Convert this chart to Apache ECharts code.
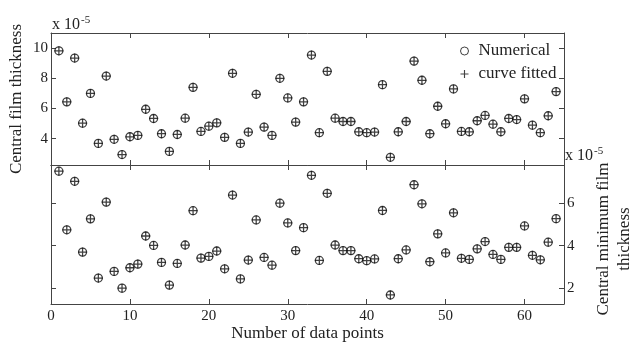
<!DOCTYPE html>
<html>
<head>
<meta charset="utf-8">
<script src="https://cdn.jsdelivr.net/npm/echarts@6/dist/echarts.min.js"></script>
<style>
html,body{margin:0;padding:0;background:#fff;}
#chart{width:644px;height:343px;}
</style>
</head>
<body>
<div id="chart"></div>
<script>
// data point index 1..64
var pointIdx = [];
for (var i = 1; i <= 64; i++) pointIdx.push(i);

// central film thickness (x 1e-5)
var filmNum = [9.82,6.44,9.34,5.03,7.00,3.69,8.15,3.96,2.95,4.13,4.22,5.95,5.34,4.33,3.16,4.28,
	5.36,7.40,4.48,4.83,5.05,4.09,8.33,3.69,4.44,6.94,4.77,4.22,8.00,6.70,5.10,6.44,
	9.54,4.40,8.46,5.36,5.14,5.14,4.46,4.40,4.44,7.58,2.77,4.46,5.14,9.14,7.87,4.33,
	6.15,4.99,7.30,4.48,4.46,5.19,5.54,4.96,4.46,5.34,5.27,6.64,4.90,4.40,5.52,7.12];
var filmFit = [9.82,6.44,9.34,5.03,7.00,3.69,8.15,3.96,2.95,4.13,4.22,5.95,5.34,4.33,3.16,4.28,
	5.36,7.40,4.48,4.83,5.05,4.09,8.33,3.69,4.44,6.94,4.77,4.22,8.00,6.70,5.10,6.44,
	9.54,4.40,8.46,5.36,5.14,5.14,4.46,4.40,4.44,7.58,2.77,4.46,5.14,9.14,7.87,4.33,
	6.15,4.99,7.30,4.48,4.46,5.19,5.54,4.96,4.46,5.34,5.27,6.64,4.90,4.40,5.52,7.12];

// central minimum film thickness (x 1e-5)
var minNum = [7.47,4.74,7.00,3.70,5.25,2.49,6.03,2.80,2.02,2.97,3.14,4.45,4.01,3.22,2.16,3.17,
	4.03,5.63,3.42,3.50,3.75,2.92,6.36,2.45,3.33,5.20,3.45,3.09,5.98,5.06,3.77,4.84,
	7.28,3.31,6.44,4.03,3.77,3.77,3.39,3.30,3.38,5.64,1.70,3.39,3.80,6.84,5.95,3.25,
	4.55,3.66,5.53,3.41,3.36,3.85,4.19,3.59,3.36,3.92,3.92,4.92,3.55,3.34,4.16,5.26];
var minFit = [7.47,4.74,7.00,3.70,5.25,2.49,6.03,2.80,2.02,2.97,3.14,4.45,4.01,3.22,2.16,3.17,
	4.03,5.63,3.42,3.50,3.75,2.92,6.36,2.45,3.33,5.20,3.45,3.09,5.98,5.06,3.77,4.84,
	7.28,3.31,6.44,4.03,3.77,3.77,3.39,3.30,3.38,5.64,1.70,3.39,3.80,6.84,5.95,3.25,
	4.55,3.66,5.53,3.41,3.36,3.85,4.19,3.59,3.36,3.92,3.92,4.92,3.55,3.34,4.16,5.26];

var xTicks = [0,10,20,30,40,50,60];
var filmTicks = [4,6,8,10];
var minTicks = [2,4,6];

var serif = '"Liberation Serif","DejaVu Serif",serif';
var txtColor = '#222';
var lineColor = '#444';
var plusPath = 'path://M4.3,0h1.4v4.3h4.3v1.4h-4.3v4.3h-1.4v-4.3h-4.3v-1.4h4.3z';

function pairs(xs, ys){
	var out = [];
	for (var k = 0; k < xs.length; k++) out.push([xs[k], ys[k]]);
	return out;
}

function mkX(grid, pos, showLabel, name){
	return {
		type: 'value', gridIndex: grid, position: pos, min: 0, max: 65,
		axisLine: {show: true, onZero: false, lineStyle: {color: lineColor, width: 1}},
		axisTick: {show: true, inside: true, length: 5, customValues: xTicks, lineStyle: {color: lineColor}},
		axisLabel: {show: showLabel, customValues: xTicks, margin: 5, color: txtColor, fontFamily: serif, fontSize: 15},
		splitLine: {show: false},
		name: name || '', nameLocation: 'middle', nameGap: 19,
		nameTextStyle: {color: txtColor, fontFamily: serif, fontSize: 17}
	};
}
function mkY(grid, pos, min, max, ticks, showLabel){
	return {
		type: 'value', gridIndex: grid, position: pos, min: min, max: max,
		axisLine: {show: true, onZero: false, lineStyle: {color: lineColor, width: 1}},
		axisTick: {show: true, inside: true, length: 5, customValues: ticks, lineStyle: {color: lineColor}},
		axisLabel: {show: showLabel, customValues: ticks, margin: 3, color: txtColor, fontFamily: serif, fontSize: 15},
		splitLine: {show: false}
	};
}

var circleStyle = {color: 'rgba(0,0,0,0)', borderColor: '#111', borderWidth: 1.3};
var plusStyle = {color: '#111', borderWidth: 0};

var chart = echarts.init(document.getElementById('chart'));
chart.setOption({
	animation: false,
	backgroundColor: '#fff',
	grid: [
		{left: 51, top: 33, width: 513, height: 132},
		{left: 51, top: 165, width: 513, height: 139}
	],
	xAxis: [
		mkX(0, 'bottom', false),
		mkX(0, 'top', false),
		mkX(1, 'bottom', true, 'Number of data points'),
		mkX(1, 'top', false)
	],
	yAxis: [
		mkY(0, 'left', 2.26, 11, filmTicks, true),
		mkY(0, 'right', 2.26, 11, filmTicks, false),
		mkY(1, 'left', 1.28, 7.76, minTicks, false),
		mkY(1, 'right', 1.28, 7.76, minTicks, true)
	],
	legend: {
		orient: 'vertical', left: 455, top: 37, itemWidth: 8, itemHeight: 8, itemGap: 5,
		data: [
			{name: 'Numerical', itemStyle: {borderWidth: 1}},
			{name: 'curve fitted'}
		],
		textStyle: {color: txtColor, fontFamily: serif, fontSize: 17, lineHeight: 18, padding: [0,0,0,5]}
	},
	graphic: [
		{type: 'text', x: 17, y: 99, rotation: Math.PI/2,
			style: {text: 'Central film thickness', fill: txtColor, font: '17px ' + serif, align: 'center', verticalAlign: 'middle'}},
		{type: 'text', x: 614, y: 239, rotation: Math.PI/2,
			style: {text: 'Central minimum film\nthickness', fill: txtColor, font: '17px ' + serif, lineHeight: 21, align: 'center', verticalAlign: 'middle'}},
		{type: 'text', x: 52, y: 35,
			style: {text: '{b|x 10}{s|-5}', fill: txtColor, verticalAlign: 'bottom', rich: {
				b: {fontFamily: serif, fontSize: 16, fill: txtColor},
				s: {fontFamily: serif, fontSize: 11, fill: txtColor, padding: [0,0,9,1]}}}},
		{type: 'text', x: 565, y: 166,
			style: {text: '{b|x 10}{s|-5}', fill: txtColor, verticalAlign: 'bottom', rich: {
				b: {fontFamily: serif, fontSize: 16, fill: txtColor},
				s: {fontFamily: serif, fontSize: 11, fill: txtColor, padding: [0,0,9,1]}}}}
	],
	series: [
		{name: 'Numerical', type: 'scatter', xAxisIndex: 0, yAxisIndex: 0, data: pairs(pointIdx, filmNum),
			symbol: 'circle', symbolSize: 8, z: 2, itemStyle: circleStyle},
		{name: 'curve fitted', type: 'scatter', xAxisIndex: 0, yAxisIndex: 0, data: pairs(pointIdx, filmFit),
			symbol: plusPath, symbolSize: 9, z: 3, itemStyle: plusStyle},
		{name: 'Numerical', type: 'scatter', xAxisIndex: 2, yAxisIndex: 2, data: pairs(pointIdx, minNum),
			symbol: 'circle', symbolSize: 8, z: 2, itemStyle: circleStyle},
		{name: 'curve fitted', type: 'scatter', xAxisIndex: 2, yAxisIndex: 2, data: pairs(pointIdx, minFit),
			symbol: plusPath, symbolSize: 9, z: 3, itemStyle: plusStyle}
	]
});
</script>
</body>
</html>
